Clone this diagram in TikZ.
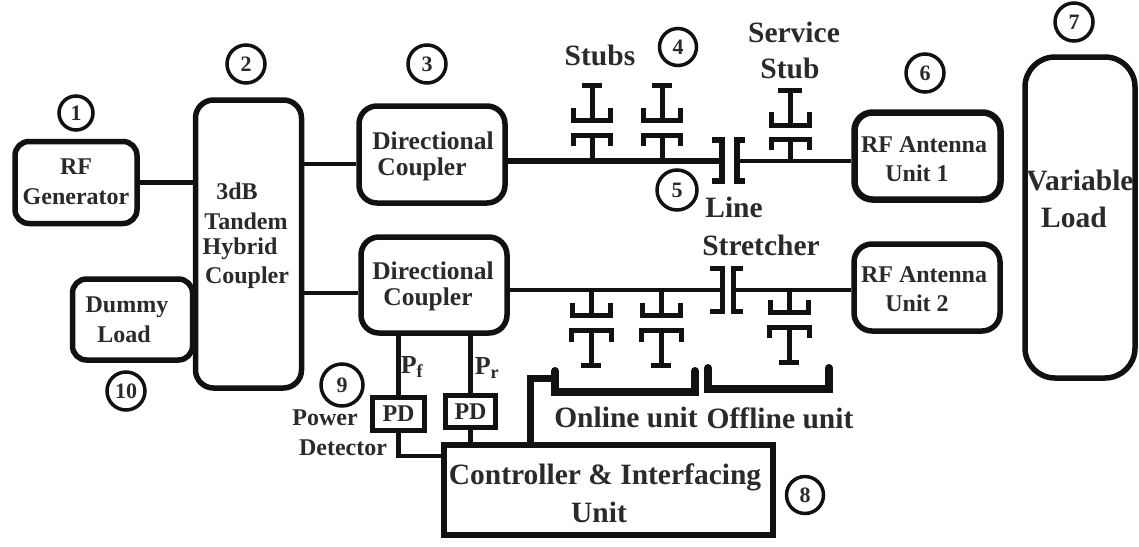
\documentclass[tikz,border=0pt]{standalone}
\usepackage{fontspec}
\usepackage{xcolor}
\setmainfont{Liberation Serif}
\usetikzlibrary{positioning,calc}
\definecolor{ink}{HTML}{111111}
\definecolor{txt}{HTML}{2A2A2A}
\begin{document}
\begin{tikzpicture}[
  x=1pt, y=-1pt, font=\fontsize{24}{28}\selectfont\bfseries, text=txt,
  box/.style={draw=ink,line width=5.5pt,rounded corners=14pt,align=center,inner sep=0pt},
  pdbox/.style={draw=ink,line width=5.5pt,align=center,inner sep=0pt},
  num/.style={draw=ink,circle,line width=3.5pt,minimum size=34pt,inner sep=0pt,font=\fontsize{22}{24}\selectfont\bfseries},
  lab/.style={align=center,inner sep=0pt},
  blab/.style={lab,font=\fontsize{29.5}{32}\selectfont\bfseries},
  dlab/.style={lab,font=\fontsize{25.5}{28}\selectfont\bfseries},
  wire/.style={draw=ink,line width=4.5pt},
  heavy wire/.style={draw=ink,line width=6pt},
  bracket/.style={draw=ink,line width=8pt,line cap=round},
  stubline/.style={draw=ink,line width=5pt}]
\useasboundingbox (0,0) rectangle (1139,546);
% blocks
\node[box,minimum width=122pt,minimum height=82pt] (gen) at (76,182.5) {};
\node[box,minimum width=106pt,minimum height=288pt,rounded corners=18pt] (hyb) at (248.5,244) {};
\node[box,minimum width=146pt,minimum height=97pt,rounded corners=18pt] (dca) at (432,154.5) {};
\node[box,minimum width=146pt,minimum height=96pt,rounded corners=18pt] (dcb) at (434,285) {};
\node[box,line width=6.5pt,minimum width=146pt,minimum height=87pt,rounded corners=18pt] (ruba) at (927.5,156) {};
\node[box,minimum width=146pt,minimum height=87pt,rounded corners=18pt] (rubb) at (927,287.5) {};
\node[box,minimum width=120pt,minimum height=81pt] (dum) at (132.5,319.5) {};
\node[box,rounded corners=30pt,minimum width=110pt,minimum height=321pt] (var) at (1080,217.5) {};
\node[draw=ink,line width=6pt,minimum width=329pt,minimum height=90pt,inner sep=0pt] (ctl) at (608.5,490) {};
\node[pdbox,minimum width=52pt,minimum height=33pt] (pda) at (398.5,414) {PD};
\node[pdbox,minimum width=50pt,minimum height=32pt] (pdb) at (470.5,411.5) {PD};
% texts
\node[lab] (trf) at (76,167) {RF};
\node[lab] (tgen) at (76,197) {Generator};
\node[lab] (thb) at (237,191) {3dB};
\node[lab] (thc) at (246,221) {Tandem};
\node[lab] (thd) at (240,249) {Hybrid};
\node[lab] (the) at (247,278) {Coupler};
\node[dlab] (tda) at (433,141) {Directional};
\node[dlab] (tdb) at (422,169) {Coupler};
\node[dlab] (tdc) at (433,271) {Directional};
\node[dlab] (tdd) at (428,299) {Coupler};
\node[lab] (tra) at (924,145) {RF Antenna};
\node[lab] (trb) at (917,173) {Unit 1};
\node[lab] (trc) at (924,275) {RF Antenna};
\node[lab] (trd) at (917,303) {Unit 2};
\node[lab] (tdum) at (127,307) {Dummy};
\node[lab] (tlod) at (124,334) {Load};
\node[blab] (tvar) at (1080,180) {Variable};
\node[blab] (tvlo) at (1074,217) {Load};
\node[blab] (tcta) at (605,477) {Controller \& Interfacing};
\node[blab] (tctb) at (599,512) {Unit};
\node[blab] (tstb) at (600,55) {Stubs};
\node[blab] (tsrv) at (794,32) {Service};
\node[blab] (tsrs) at (790,68) {Stub};
\node[blab] (tlin) at (734,207) {Line};
\node[blab] (tstr) at (761,245) {Stretcher};
\node[blab] (tonl) at (626,417) {Online unit};
\node[blab] (tofl) at (780,418) {Offline unit};
\node[lab] (tpow) at (325,418) {Power};
\node[lab] (tdet) at (343,448) {Detector};
\node[lab,font=\fontsize{26}{28}\selectfont\bfseries] (tpf) at (412,367) {P\textsubscript{f}};
\node[lab,font=\fontsize{26}{28}\selectfont\bfseries] (tpr) at (487,368) {P\textsubscript{r}};
% numbers
\node[num] (na) at (76,113) {1};
\node[num,minimum size=38pt] (nb) at (246,64) {2};
\node[num,minimum size=38pt] (nc) at (427,64) {3};
\node[num,minimum size=37pt] (nd) at (678,47) {4};
\node[num,minimum size=40pt] (ne) at (677,190) {5};
\node[num,minimum size=38pt] (nf) at (925,73) {6};
\node[num,minimum size=38pt] (ng) at (1074,22) {7};
\node[num,minimum size=37pt] (nh) at (805,495) {8};
\node[num,minimum size=42pt] (ni) at (342,385) {9};
\node[num,minimum size=38pt] (nj) at (126,391) {10};
% main lines
\coordinate (capa) at (722,161);
\coordinate (capb) at (737,161);
\coordinate (capc) at (722,290);
\coordinate (capd) at (733,290);
\draw[wire] (gen.east) -- (gen.east -| hyb.west);
\draw[wire] (hyb.east |- 0,164) -- (dca.west |- 0,164);
\draw[wire] (hyb.east |- 0,293) -- (dcb.west |- 0,293);
\draw[heavy wire] (dca.east |- capa) -- (capa);
\draw[wire] (capb) -- (capb -| ruba.west);
\draw[wire] (dcb.east |- capc) -- (capc);
\draw[wire] (capd) -- (capd -| rubb.west);
% line stretcher caps
\draw[stubline,line width=5.5pt] (712,140) -| (capa) |- (712,181);
\draw[stubline,line width=5.5pt] (745,140) -| (capb) |- (745,181);
\draw[stubline] (710,268) -| (capc) |- (710,311);
\draw[stubline] (743,268) -| (capd) |- (743,311);
% stubs on upper line
\foreach \xs in {592,662} {
  \draw[stubline] (\xs,161) -- (\xs,135);
  \draw[stubline] (\xs-18.5,146) |- (\xs+18.5,135) -- (\xs+18.5,146);
  \draw[stubline] (\xs-18.5,108) |- (\xs+18.5,120) -- (\xs+18.5,108);
  \draw[stubline] (\xs,120) -- (\xs,85) (\xs-10,85) -- (\xs+10,85);
}
\draw[stubline] (790,161) -- (790,139);
\draw[stubline] (771,150) |- (809,139) -- (809,150);
\draw[stubline] (771,112) |- (809,125) -- (809,112);
\draw[stubline] (790,125) -- (790,90) (778,90) -- (802,90);
% stubs on lower line
\foreach \xs in {591,661} {
  \draw[stubline] (\xs,290) -- (\xs,315);
  \draw[stubline] (\xs-19,303) |- (\xs+19,315) -- (\xs+19,303);
  \draw[stubline] (\xs-20,342) |- (\xs+20,330) -- (\xs+20,342);
  \draw[stubline] (\xs,330) -- (\xs,365) (\xs-10,365) -- (\xs+10,365);
}
\draw[stubline] (789,290) -- (789,312);
\draw[stubline] (770,300) |- (808,312) -- (808,300);
\draw[stubline] (769,338) |- (809,327) -- (809,338);
\draw[stubline] (789,327) -- (789,362) (779,362) -- (799,362);
% online and offline brackets
\coordinate (onl) at (555,392);
\coordinate (onr) at (695,392);
\draw[bracket] (555,371) -- (onl) -- (onr) -- (695,371);
\draw[bracket] (708,368) |- (829,389) -- (829,368);
% detector and controller lines
\draw[wire] (pda.north |- dcb.south) -- (pda.north);
\draw[wire] (pdb.north |- dcb.south) -- (pdb.north);
\draw[wire] (pda.south) |- (ctl.west |- 0,456);
\draw[wire] (pdb.south) -- (pdb.south |- ctl.north);
\draw[line width=7pt,draw=ink] (ctl.north -| 530,0) |- (onl |- 0,378);
\end{tikzpicture}
\end{document}
